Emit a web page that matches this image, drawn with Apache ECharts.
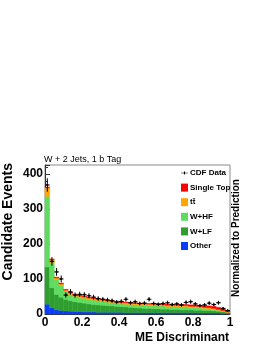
<!DOCTYPE html>
<html><head><meta charset="utf-8">
<script src="https://cdn.jsdelivr.net/npm/echarts@6/dist/echarts.min.js"></script>
<style>html,body{margin:0;padding:0;background:#fff}#c{width:270px;height:349px}</style>
</head><body><div id="c"></div>
<script>
// 40 bins of width 0.025 on the ME discriminant
const binWidth = 0.025;
const other     = [28,18,12,10,9,8,7,7,6,6,6,5,5,5,5,5,5,4,4,4,4,4,4,4,4,4,4,4,4,4,4,4,4,3,3,3,3,3,2,2];
const wlf       = [106,57,44,38,33,30,28,26,25,23,21,21,20,19,18,17,16,16,15,14,13,12,12,11,11,10,10,9,9,8,8,8,7,8,7,7,6,5,4,2];
const whf       = [201,72,42,33,22,18,16,15,14,13,13,12,11,10,9,8,8,8,8,8,8,9,8,9,8,9,7,8,8,9,9,7,8,7,6,5,5,3,2,1];
const ttbar     = [25,8,5,5,4,4,4,4,4,4,4,4,4,4,4,4,4,4,4,4,4,4,4,4,4,4,4,4,4,3,3,3,3,3,3,3,2,2,2,1];
const singleTop = [2,2,2,2,2,2,2,2,2,2,2,2,2,2,2,2,2,2,2,2,2,2,2,2,2,2,3,3,3,3,3,4,4,4,5,5,6,6,5,3];
const cdfData   = [368,150,120,100,54,63,54,56,55,52,48,44,42,40,38,34,36,42,32,35,30,31,42,30,28,30,32,27,29,26,33,35,29,24,26,31,27,32,16,10];
const xTicks = [0, 0.2, 0.4, 0.6, 0.8, 1];
const yTicks = [0, 100, 200, 300, 400];

const FONT = 'Liberation Sans';
const stacks = [other, wlf, whf, ttbar, singleTop];
const names  = ['Other', 'W+LF', 'W+HF', 't\u0074\u0304', 'Single Top'];
const colors = ['#0a3cff', '#2f9e2f', '#5fdc5f', '#ffa500', '#ff0000'];

function base(k, i) { let s = 0; for (let j = 0; j < k; j++) s += stacks[j][i]; return s; }

function histSeries(k) {
  const color = colors[k];
  return {
    type: 'custom', name: names[k], itemStyle: { color: color }, z: 2 + k * 0.01,
    encode: { x: [0, 1], y: [2, 3] },
    data: stacks[k].map((v, i) => [i * binWidth, (i + 1) * binWidth, base(k, i), base(k, i) + v]),
    renderItem(params, api) {
      const p0 = api.coord([api.value(0), api.value(3)]);
      const p1 = api.coord([api.value(1), api.value(2)]);
      return { type: 'rect', shape: { x: p0[0], y: p0[1], width: p1[0] - p0[0], height: p1[1] - p0[1] },
               style: { fill: color, stroke: color, lineWidth: 0.5 } };
    }
  };
}

const series = [0, 1, 2, 3, 4].map(histSeries);
series.push({
  type: 'custom', name: 'CDF Data', itemStyle: { color: '#000' }, z: 10,
  encode: { x: [0, 1], y: [2] },
  data: cdfData.map((v, i) => [i * binWidth, (i + 1) * binWidth, v, Math.sqrt(v)]),
  renderItem(params, api) {
    const x0 = api.value(0), x1 = api.value(1), v = api.value(2), e = api.value(3);
    const xc = (x0 + x1) / 2;
    const pl = api.coord([x0, v]), pr = api.coord([x1, v]);
    const pt = api.coord([xc, v + e]), pb = api.coord([xc, Math.max(v - e, 0)]);
    return { type: 'group', children: [
      { type: 'line', shape: { x1: pl[0], y1: pl[1], x2: pr[0], y2: pr[1] }, style: { stroke: '#000', lineWidth: 1 } },
      { type: 'line', shape: { x1: pt[0], y1: pt[1], x2: pb[0], y2: pb[1] }, style: { stroke: '#000', lineWidth: 1 } },
      { type: 'circle', shape: { cx: (pl[0] + pr[0]) / 2, cy: pl[1], r: 1.1 }, style: { fill: '#000' } }
    ]};
  }
});

const chart = echarts.init(document.getElementById('c'));
chart.setOption({
  animation: false,
  grid: { left: 45, right: 40, top: 165, bottom: 35, show: true, borderColor: '#8a8a8a', borderWidth: 1 },
  title: { text: 'W + 2 Jets, 1 b Tag', left: 44, top: 155, padding: 0,
           textStyle: { fontFamily: FONT, fontSize: 9, fontWeight: 'normal', color: '#000' } },
  legend: {
    orient: 'vertical', left: 181, top: 168, itemWidth: 7, itemHeight: 8, itemGap: 4.6, selectedMode: false,
    padding: 0,
    textStyle: { fontFamily: FONT, fontWeight: 'bold', fontSize: 8, color: '#000', lineHeight: 10, padding: [0, 0, 0, -3] },
    data: [
      { name: 'CDF Data', icon: 'path://M0,4h12v1h-12z M5,2h2v5h-2z' },
      { name: 'Single Top', icon: 'rect' },
      { name: names[3], icon: 'rect' },
      { name: 'W+HF', icon: 'rect' },
      { name: 'W+LF', icon: 'rect' },
      { name: 'Other', icon: 'rect' }
    ]
  },
  xAxis: {
    type: 'value', min: xTicks[0], max: xTicks[xTicks.length - 1], interval: 0.2,
    axisLine: { show: true, lineStyle: { color: '#333', width: 1 } },
    axisTick: { show: false },
    splitLine: { show: false },
    axisLabel: { fontFamily: FONT, fontWeight: 'bold', fontSize: 12, color: '#000', margin: 3,
                 formatter: v => xTicks.some(t => Math.abs(t - v) < 1e-9) ? String(v) : '' }
  },
  yAxis: {
    type: 'value', min: 0, max: 425, interval: 100,
    axisLine: { show: true, lineStyle: { color: '#333', width: 1 } },
    axisTick: { show: true, inside: true, length: 5, lineStyle: { color: '#333' } },
    minorTick: { show: true, splitNumber: 5, length: 3, lineStyle: { color: '#333' } },
    splitLine: { show: false },
    axisLabel: { fontFamily: FONT, fontWeight: 'bold', fontSize: 12, color: '#000', margin: 2,
                 formatter: v => yTicks.indexOf(v) >= 0 ? String(v) : '' }
  },
  graphic: [
    { type: 'text', x: 8.5, y: 163, rotation: Math.PI / 2,
      style: { text: 'Candidate Events', align: 'right', verticalAlign: 'middle',
               font: 'bold 14px "Liberation Sans"', fill: '#000' } },
    { type: 'text', x: 229, y: 338,
      style: { text: 'ME Discriminant', align: 'right', verticalAlign: 'middle',
               font: 'bold 12px "Liberation Sans"', fill: '#000' } },
    { type: 'text', x: 236, y: 238, rotation: Math.PI / 2,
      style: { text: 'Normalized to Prediction', align: 'center', verticalAlign: 'middle',
               font: 'bold 10px "Liberation Sans"', fill: '#000' } }
  ],
  series: series
});
</script></body></html>
